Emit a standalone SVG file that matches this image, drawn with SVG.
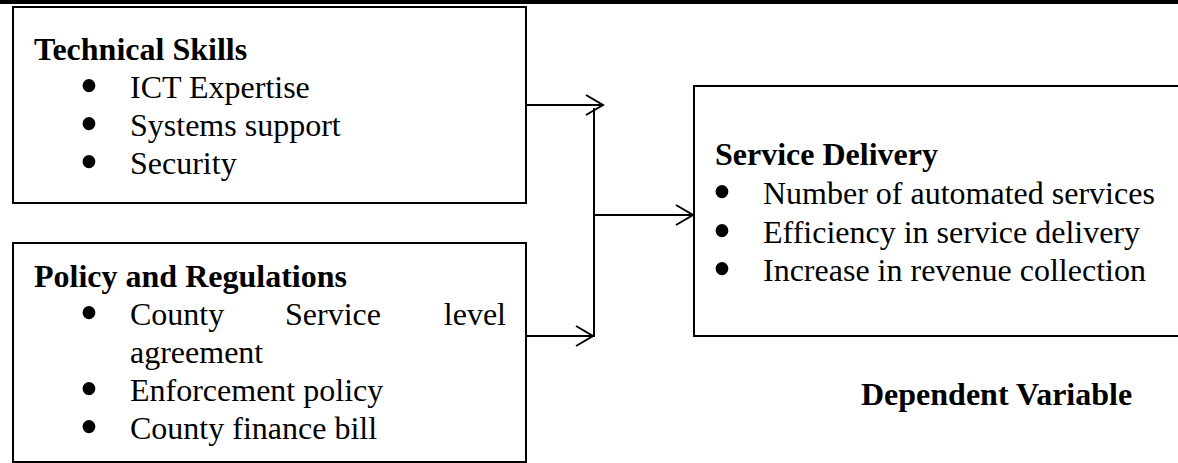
<svg xmlns="http://www.w3.org/2000/svg" width="1178" height="463" viewBox="0 0 1178 463">
<style>
.box{fill:#fff;stroke:#000;stroke-width:2}
.t{font-family:"Liberation Serif","Times New Roman",serif;font-size:32px;fill:#000}
.b{font-weight:bold}
.bul{font-family:"Liberation Serif","Times New Roman",serif;font-size:54px;fill:#000;text-anchor:middle}
.c{fill:none;stroke:#000;stroke-width:2}
</style>
<defs>
<marker id="arr" markerUnits="userSpaceOnUse" markerWidth="24" markerHeight="24" viewBox="-20 -12 24 24" refX="0" refY="0" orient="auto" overflow="visible">
<path d="M-17,-10 L0,0 L-17,10" fill="none" stroke="#000" stroke-width="2"/>
</marker>
</defs>
<rect x="0" y="0" width="1178" height="4" fill="#000"/>
<g id="technical-skills">
<rect class="box" x="13" y="7" width="513" height="196"/>
<text class="t b" x="34" y="60">Technical Skills</text>
<text class="bul" x="89" y="104">•</text><text class="t" x="130" y="98">ICT Expertise</text>
<text class="bul" x="89" y="142">•</text><text class="t" x="130" y="136">Systems support</text>
<text class="bul" x="89" y="180">•</text><text class="t" x="130" y="174">Security</text>
</g>
<g id="policy-regulations">
<rect class="box" x="13" y="243" width="513" height="219"/>
<text class="t b" x="34" y="287">Policy and Regulations</text>
<text class="bul" x="89" y="331">•</text><text class="t" x="130" y="325">County</text><text class="t" x="285" y="325">Service</text><text class="t" x="506" y="325" text-anchor="end">level</text>
<text class="t" x="130" y="363">agreement</text>
<text class="bul" x="89" y="407">•</text><text class="t" x="130" y="401">Enforcement policy</text>
<text class="bul" x="89" y="445">•</text><text class="t" x="130" y="439">County finance bill</text>
</g>
<g id="service-delivery">
<rect class="box" x="694" y="86" width="500" height="250"/>
<text class="t b" x="715" y="165">Service Delivery</text>
<text class="bul" x="722" y="210">•</text><text class="t" x="763" y="204">Number of automated services</text>
<text class="bul" x="722" y="249">•</text><text class="t" x="763" y="243">Efficiency in service delivery</text>
<text class="bul" x="722" y="287">•</text><text class="t" x="763" y="281">Increase in revenue collection</text>
</g>
<g id="dependent-variable">
<text class="t b" x="861" y="405">Dependent Variable</text>
</g>
<g id="connectors">
<path class="c" d="M526,105 H603" marker-end="url(#arr)"/>
<path class="c" d="M594,108 V337"/>
<path class="c" d="M526,336 H593" marker-end="url(#arr)"/>
<path class="c" d="M594,215 H693" marker-end="url(#arr)"/>
</g>
</svg>
